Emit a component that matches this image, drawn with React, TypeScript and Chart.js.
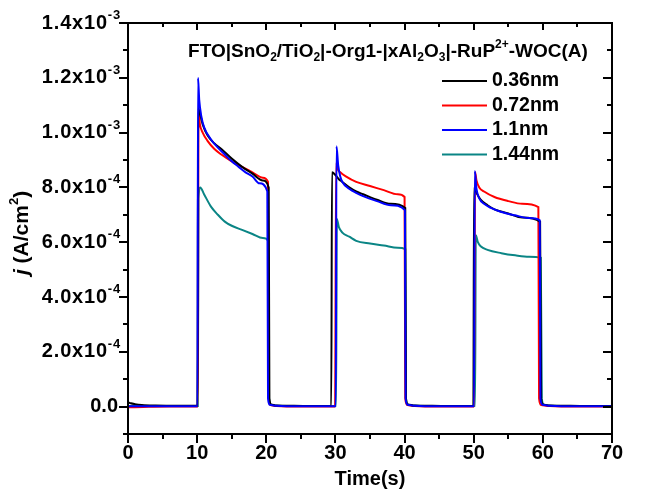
import React, { useEffect, useRef } from 'react';
import { Chart, registerables } from 'chart.js';

Chart.register(...registerables);

// Values of j are written in units of 1e-4 A/cm^2
const UNIT = 1e-4;

const seriesNames = ['0.36nm', '0.72nm', '1.1nm', '1.44nm'];
const seriesColors = ['#000000', '#ff0000', '#0000ff', '#0a8585'];

const tBlack = [0, 0.4, 1, 2, 4, 7, 10.05, 10.15, 10.4, 10.8, 11.5, 12.5, 13.5, 15, 16.5, 18, 19.5, 20.35, 20.45, 20.7, 21.5, 24, 27, 29.4, 29.5, 30, 30.5, 31, 32, 33, 34, 36, 38, 40.1, 40.2, 40.5, 41.5, 44, 47, 49.95, 50.05, 50.4, 51, 52, 53, 55, 57, 59.6, 59.75, 60.05, 61, 64, 67, 70];
const jBlack = [0.16, 0.12, 0.09, 0.06, 0.04, 0.03, 0.03, 10.9, 10.7, 10.3, 9.9, 9.6, 9.4, 9.05, 8.75, 8.5, 8.25, 8.0, 0.3, 0.08, 0.04, 0.03, 0.02, 0.02, 8.55, 8.45, 8.3, 8.2, 8.0, 7.85, 7.75, 7.55, 7.4, 7.25, 0.3, 0.08, 0.04, 0.03, 0.02, 0.02, 8.0, 7.8, 7.55, 7.35, 7.2, 7.05, 6.9, 6.75, 0.3, 0.08, 0.04, 0.03, 0.02, 0.02];

const tRed = [0, 1, 3, 6, 10.1, 10.2, 10.4, 10.8, 11.5, 12.5, 13.5, 15, 16.5, 18, 19.5, 20.25, 20.35, 20.6, 21.5, 25, 29.95, 30.1, 30.35, 30.7, 31.5, 33, 35, 37, 39, 40.0, 40.1, 40.4, 41.5, 45, 50.05, 50.2, 50.4, 50.8, 51.5, 53, 55, 57, 59.35, 59.45, 59.75, 61, 65, 70];
const jRed = [-0.02, -0.02, -0.01, 0.0, 0.0, 10.75, 10.3, 10.0, 9.7, 9.4, 9.2, 8.95, 8.75, 8.55, 8.35, 8.2, 0.3, 0.06, 0.02, 0.0, 0.0, 8.9, 8.65, 8.55, 8.4, 8.2, 8.05, 7.9, 7.75, 7.65, 0.3, 0.06, 0.02, 0.0, 0.0, 8.55, 8.25, 8.0, 7.85, 7.65, 7.5, 7.4, 7.28, 0.3, 0.06, 0.02, 0.0, 0.0];

const tBlue = [0, 2, 5, 10.05, 10.12, 10.3, 10.6, 11, 12, 13, 14, 15, 16, 17, 18, 19, 20.15, 20.25, 20.5, 21.5, 25, 30.05, 30.15, 30.4, 30.7, 31, 32, 33, 34, 36, 38, 40.05, 40.15, 40.45, 41.5, 45, 50.05, 50.15, 50.4, 50.8, 51.5, 52.5, 54, 56, 58, 59.55, 59.65, 59.95, 61, 65, 70];
const jBlue = [0.01, 0.01, 0.01, 0.01, 12.0, 11.2, 10.6, 10.2, 9.75, 9.45, 9.2, 8.95, 8.75, 8.55, 8.4, 8.15, 7.85, 0.3, 0.07, 0.03, 0.01, 0.01, 9.5, 8.8, 8.4, 8.2, 7.95, 7.8, 7.68, 7.5, 7.35, 7.17, 0.3, 0.07, 0.03, 0.01, 0.01, 8.6, 7.95, 7.6, 7.4, 7.25, 7.1, 6.98, 6.88, 6.8, 0.3, 0.07, 0.03, 0.01, 0.01];

const tTeal = [0, 2, 5, 10.1, 10.2, 10.45, 11, 12, 13, 14, 15, 16.5, 18, 19.5, 20.3, 20.4, 20.7, 21.5, 25, 30.1, 30.2, 30.5, 31, 32, 33, 35, 37, 39, 40.1, 40.2, 40.5, 41.5, 45, 50.2, 50.3, 50.6, 51, 52, 54, 56, 58, 59.7, 59.85, 60.15, 61, 65, 70];
const jTeal = [0.02, 0.02, 0.02, 0.02, 7.6, 8.0, 7.75, 7.3, 7.0, 6.75, 6.6, 6.45, 6.3, 6.15, 6.05, 0.3, 0.07, 0.03, 0.02, 0.02, 6.85, 6.55, 6.35, 6.2, 6.05, 5.95, 5.88, 5.8, 5.75, 0.3, 0.07, 0.03, 0.02, 0.02, 6.25, 6.0, 5.85, 5.72, 5.6, 5.52, 5.47, 5.43, 0.3, 0.07, 0.03, 0.02, 0.02];

const xMajorTicks = [0, 10, 20, 30, 40, 50, 60, 70];
const xMinorTicks = [5, 15, 25, 35, 45, 55, 65];
const yMajorTicks = [0, 2e-4, 4e-4, 6e-4, 8e-4, 1.0e-3, 1.2e-3, 1.4e-3];
const yMinorTicks = [-1e-4, 1e-4, 3e-4, 5e-4, 7e-4, 9e-4, 1.1e-3, 1.3e-3];
const yTickMantissa = ['0.0', '2.0x10', '4.0x10', '6.0x10', '8.0x10', '1.0x10', '1.2x10', '1.4x10'];
const yTickExponent = ['', '-4', '-4', '-4', '-4', '-3', '-3', '-3'];

const X_MIN = 0, X_MAX = 70, Y_MIN = -1e-4, Y_MAX = 1.4e-3;

const FONT = "'Liberation Sans', Arial, Helvetica, sans-serif";

type Seg = { t: string; k?: 'sub' | 'sup' | 'i' };

function drawRich(ctx: CanvasRenderingContext2D, segs: Seg[], x: number, y: number, align: 'left' | 'center' | 'right', size: number, spacing = 0) {
  const small = Math.round(size * 0.63);
  const fontFor = (k?: string) =>
    k === 'sub' || k === 'sup' ? `bold ${small}px ${FONT}` : k === 'i' ? `italic bold ${size}px ${FONT}` : `bold ${size}px ${FONT}`;
  (ctx as any).letterSpacing = `${spacing}px`;
  const widths = segs.map((s) => {
    ctx.font = fontFor(s.k);
    return ctx.measureText(s.t).width;
  });
  const total = widths.reduce((a, b) => a + b, 0);
  let cx = align === 'left' ? x : align === 'center' ? x - total / 2 : x - total;
  ctx.textAlign = 'left';
  ctx.textBaseline = 'middle';
  segs.forEach((s, i) => {
    ctx.font = fontFor(s.k);
    const dy = s.k === 'sub' ? size * 0.32 : s.k === 'sup' ? -size * 0.38 : 0;
    ctx.fillText(s.t, cx, y + dy);
    cx += widths[i];
  });
  (ctx as any).letterSpacing = '0px';
}

const decorPlugin = {
  id: 'decor',
  afterDraw(chart: any) {
    const ctx: CanvasRenderingContext2D = chart.ctx;
    const xs = chart.scales.x;
    const ys = chart.scales.y;
    const { left, right, top, bottom } = chart.chartArea;
    ctx.save();
    ctx.strokeStyle = '#000';
    ctx.fillStyle = '#000';
    ctx.lineWidth = 2;
    ctx.lineCap = 'butt';
    ctx.strokeRect(left, top, right - left, bottom - top);

    const line = (x1: number, y1: number, x2: number, y2: number) => {
      ctx.beginPath();
      ctx.moveTo(x1, y1);
      ctx.lineTo(x2, y2);
      ctx.stroke();
    };
    // x ticks
    xMajorTicks.forEach((v) => {
      const px = Math.round(xs.getPixelForValue(v));
      line(px, bottom, px, bottom + 9);
      line(px, top, px, top + 7);
    });
    xMinorTicks.forEach((v) => {
      const px = Math.round(xs.getPixelForValue(v));
      line(px, bottom, px, bottom + 5);
      line(px, top, px, top + 4);
    });
    // y ticks
    yMajorTicks.forEach((v) => {
      const py = Math.round(ys.getPixelForValue(v));
      line(left - 9, py, left, py);
      line(right - 9, py, right, py);
    });
    yMinorTicks.forEach((v) => {
      const py = Math.round(ys.getPixelForValue(v));
      line(left - 5, py, left, py);
      line(right - 5, py, right, py);
    });

    // x labels
    ctx.textAlign = 'center';
    ctx.textBaseline = 'middle';
    ctx.font = `bold 20px ${FONT}`;
    xMajorTicks.forEach((v) => {
      ctx.fillText(String(v), xs.getPixelForValue(v), bottom + 19);
    });
    // y labels
    yMajorTicks.forEach((v, i) => {
      const py = ys.getPixelForValue(v);
      const segs: Seg[] = [{ t: yTickMantissa[i] }];
      if (yTickExponent[i]) segs.push({ t: yTickExponent[i], k: 'sup' });
      drawRich(ctx, segs, left - (yTickExponent[i] ? 7 : 10), py, 'right', 20, yTickExponent[i] ? 0.8 : 0);
    });

    // axis titles
    drawRich(ctx, [{ t: 'Time(s)' }], (left + right) / 2, 479, 'center', 20);
    ctx.save();
    ctx.translate(22, 233);
    ctx.rotate(-Math.PI / 2);
    drawRich(ctx, [{ t: 'j', k: 'i' }, { t: ' (A/cm' }, { t: '2', k: 'sup' }, { t: ')' }], 0, 0, 'center', 21);
    ctx.restore();

    // title
    drawRich(
      ctx,
      [
        { t: 'FTO|SnO' }, { t: '2', k: 'sub' }, { t: '/TiO' }, { t: '2', k: 'sub' },
        { t: '|-Org1-|xAl' }, { t: '2', k: 'sub' }, { t: 'O' }, { t: '3', k: 'sub' },
        { t: '|-RuP' }, { t: '2+', k: 'sup' }, { t: '-WOC(A)' },
      ],
      388, 52, 'center', 19
    );

    // legend
    const legendY = [81, 105.5, 130, 154.5];
    seriesNames.forEach((name, i) => {
      ctx.strokeStyle = seriesColors[i];
      ctx.lineWidth = 2;
      line(442, legendY[i], 487, legendY[i]);
      ctx.fillStyle = '#000';
      drawRich(ctx, [{ t: name }], 492, legendY[i], 'left', 19.5);
    });
    ctx.restore();
  },
};

function pts(t: number[], j: number[]) {
  return t.map((x, i) => ({ x, y: j[i] * UNIT }));
}

export default function App() {
  const ref = useRef<HTMLCanvasElement | null>(null);
  useEffect(() => {
    document.body.style.margin = '0';
    if (!ref.current) return;
    const series = [
      { t: tBlack, j: jBlack, order: 1 },
      { t: tRed, j: jRed, order: 2 },
      { t: tBlue, j: jBlue, order: 0 },
      { t: tTeal, j: jTeal, order: 3 },
    ];
    const chart = new Chart(ref.current, {
      type: 'line',
      data: {
        datasets: series.map((s, i) => ({
          label: seriesNames[i],
          data: pts(s.t, s.j),
          borderColor: seriesColors[i],
          backgroundColor: seriesColors[i],
          borderWidth: 2,
          pointRadius: 0,
          cubicInterpolationMode: 'monotone',
          fill: false,
          order: s.order,
        })),
      },
      options: {
        responsive: false,
        animation: false,
        devicePixelRatio: 1,
        layout: { padding: { left: 128, top: 23, right: 49, bottom: 64 } },
        plugins: { legend: { display: false }, tooltip: { enabled: false }, title: { display: false } },
        scales: {
          x: { type: 'linear', min: X_MIN, max: X_MAX, display: false },
          y: { type: 'linear', min: Y_MIN, max: Y_MAX, display: false },
        },
      },
      plugins: [decorPlugin],
    } as any);
    return () => chart.destroy();
  }, []);
  return <canvas ref={ref} width={661} height={498} style={{ display: 'block' }} />;
}
